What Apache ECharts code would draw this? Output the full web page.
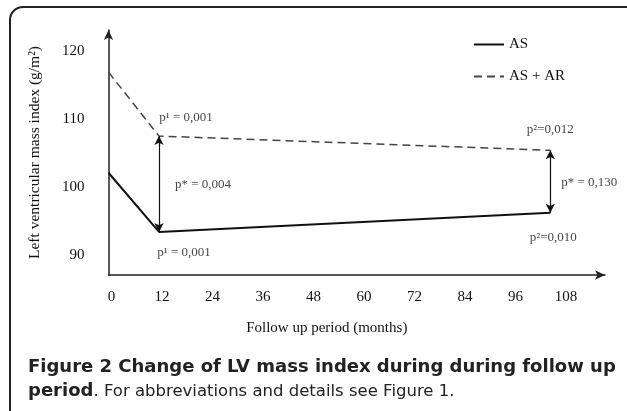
<!DOCTYPE html>
<html>
<head>
<meta charset="utf-8">
<script src="https://cdn.jsdelivr.net/npm/echarts@6/dist/echarts.min.js"></script>
<style>
  html, body { margin: 0; padding: 0; background: #fff; }
  #chart { width: 627px; height: 411px; }
</style>
</head>
<body>
<div id="chart"></div>
<script>
// follow up months and LV mass index (g/m2)
const months = [0, 12, 105]
const asValues = [102.1, 93.4, 96.2]
const asArValues = [116.9, 107.5, 105.4]

const xTicks = [0, 12, 24, 36, 48, 60, 72, 84, 96, 108]
const yTicks = [90, 100, 110, 120]

// p values written next to the points
const pTop = ['', 'p¹ = 0,001', 'p²=0,012']
const pBottom = ['', 'p¹ = 0,001', 'p²=0,010']
const pStar = ['', 'p* = 0,004', 'p* = 0,130']

const serif = '"Liberation Serif", "Times New Roman", serif'
const capFont = '"DejaVu Sans"'
const chart = echarts.init(document.getElementById('chart'))

// label offsets (px) for the annotations, by point index
const topOffset = [null, [27, -18], [0, -21]]
const bottomOffset = [null, [25, 21], [3, 25]]
const starOffset = [null, [44, 1], [39, 1]]

const annot = []
months.forEach((m, i) => {
  if (!pTop[i]) return
  annot.push({ value: [m, asArValues[i]], label: { formatter: pTop[i], offset: topOffset[i] } })
  annot.push({ value: [m, asValues[i]], label: { formatter: pBottom[i], offset: bottomOffset[i] } })
  annot.push({ value: [m, (asArValues[i] + asValues[i]) / 2], label: { formatter: pStar[i], offset: starOffset[i] } })
})

const arrows = []
months.forEach((m, i) => {
  if (!pStar[i]) return
  arrows.push([{ coord: [m, asArValues[i]] }, { coord: [m, asValues[i]] }])
})

chart.setOption({
  animation: false,
  textStyle: { fontFamily: serif },
  title: {
    left: 23,
    top: 350,
    text: '{b|Figure 2 Change of LV mass index during during follow up}\n{b|period}{n|. For abbreviations and details see Figure 1.}',
    textStyle: {
      rich: {
        b: { fontFamily: capFont, fontWeight: 'bold', fontSize: 18, color: '#222', lineHeight: 24.5 },
        n: { fontFamily: capFont, fontWeight: 'normal', fontSize: 16.5, color: '#222', lineHeight: 24.5 }
      }
    }
  },
  graphic: [{
    type: 'rect',
    shape: { x: 10, y: 7, width: 640, height: 420, r: 13 },
    style: { fill: 'none', stroke: '#222', lineWidth: 2 },
    silent: true
  }],
  legend: {
    orient: 'vertical',
    left: 468,
    top: 32,
    itemWidth: 30,
    itemHeight: 14,
    itemGap: 17,
    itemStyle: { opacity: 0 },
    textStyle: { fontFamily: serif, fontSize: 15, color: '#111' },
    data: ['AS', 'AS + AR']
  },
  grid: { left: 108.5, right: 22, top: 30, bottom: 136 },
  xAxis: {
    type: 'value',
    min: 0,
    max: 118,
    name: 'Follow up period (months)',
    nameLocation: 'middle',
    nameGap: 46,
    nameTextStyle: { fontFamily: serif, fontSize: 15, color: '#111', padding: [0, 60, 0, 0] },
    axisLine: { show: true, symbol: ['none', 'arrow'], symbolSize: [7, 10], lineStyle: { color: '#222', width: 1.5 } },
    axisTick: { show: false },
    splitLine: { show: false },
    axisLabel: { customValues: xTicks, fontFamily: serif, fontSize: 15, color: '#111', margin: 15, padding: [0, 0, 0, 6] }
  },
  yAxis: {
    type: 'value',
    min: 87.06,
    max: 123.1,
    name: 'Left ventricular mass index (g/m²)',
    nameLocation: 'middle',
    nameGap: 66,
    nameTextStyle: { fontFamily: serif, fontSize: 15.5, color: '#111' },
    axisLine: { show: true, symbol: ['none', 'arrow'], symbolSize: [7, 10], lineStyle: { color: '#222', width: 1.5 } },
    axisTick: { show: false },
    splitLine: { show: false },
    axisLabel: { customValues: yTicks, fontFamily: serif, fontSize: 15, color: '#111', margin: 24 }
  },
  series: [
    {
      name: 'AS',
      type: 'line',
      symbol: 'none',
      data: months.map((m, i) => [m, asValues[i]]),
      lineStyle: { color: '#111', width: 2 },
      itemStyle: { color: '#111' },
      markLine: {
        silent: true,
        symbol: ['arrow', 'arrow'],
        symbolSize: [7, 9],
        label: { show: false },
        lineStyle: { color: '#111', width: 1.2, type: 'solid' },
        data: arrows
      }
    },
    {
      name: 'AS + AR',
      type: 'line',
      symbol: 'none',
      data: months.map((m, i) => [m, asArValues[i]]),
      lineStyle: { color: '#444', width: 1.5, type: [8, 5] },
      itemStyle: { color: '#444' }
    },
    {
      name: 'p',
      type: 'scatter',
      symbolSize: 0,
      silent: true,
      data: annot,
      label: { show: true, position: 'inside', fontFamily: serif, fontSize: 13, color: '#111' }
    }
  ]
})
</script>
</body>
</html>
